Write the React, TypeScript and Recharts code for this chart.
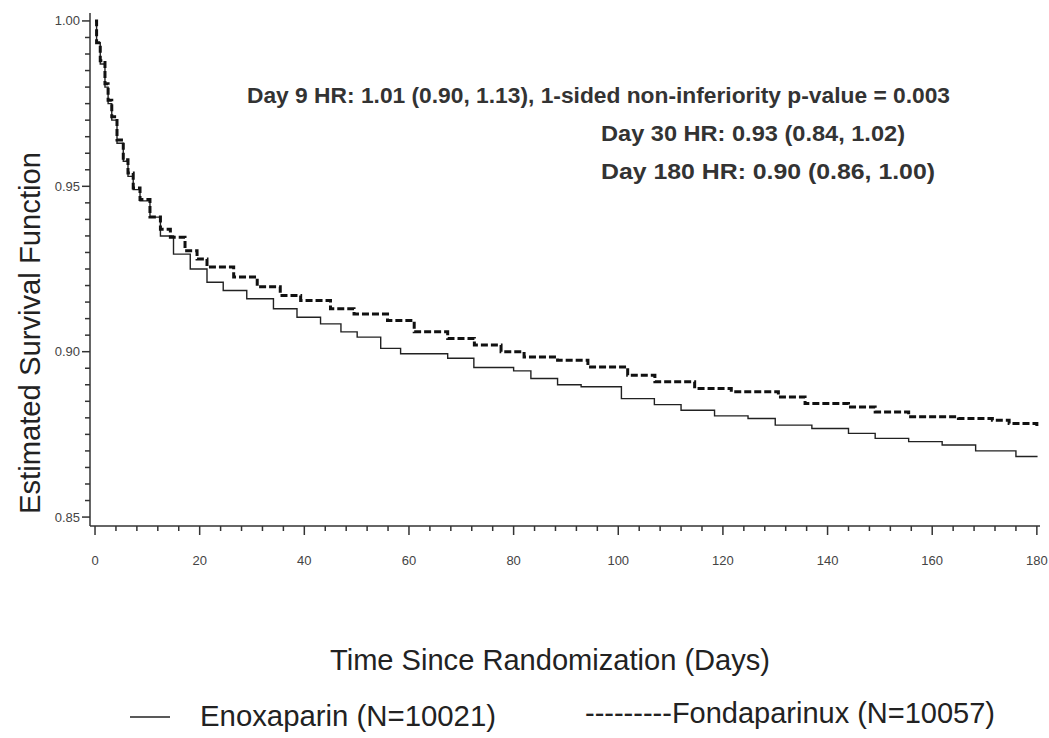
import { Customized, Label, Legend, Line, LineChart, XAxis, YAxis } from "recharts";

// Kaplan-Meier estimates (step changes)
const enoxDays = [
  0, 0.3, 1, 1.9, 2.5, 3.2, 4.2, 5.4, 6.3, 7.3, 8.6, 10.5, 12.5, 15, 18.2, 21.4, 24.5, 29, 34.1,
  38.6, 43.1, 47, 50.1, 54.6, 58.4, 67.4, 72.4, 80, 83.3, 88.4, 92.9, 100.6, 106.9, 112, 118.4,
  124.8, 130, 137, 144, 149.1, 155.5, 161.9, 168.3, 176, 180,
];
const enoxSurv = [
  1.0, 0.9934, 0.987, 0.98, 0.975, 0.97, 0.963, 0.9576, 0.953, 0.949, 0.9456, 0.9407, 0.935,
  0.9295, 0.925, 0.921, 0.9185, 0.916, 0.913, 0.9104, 0.9084, 0.906, 0.9044, 0.901, 0.8994, 0.898,
  0.8952, 0.8942, 0.8919, 0.89, 0.8894, 0.8858, 0.884, 0.8823, 0.8806, 0.8798, 0.8778, 0.8768,
  0.8753, 0.8738, 0.8728, 0.8718, 0.87, 0.8683, 0.8681,
];

const fondaDays = [
  0, 0.3, 1, 1.9, 2.5, 3.2, 4.2, 5.4, 6.3, 7.3, 8.6, 10.5, 12.5, 14.4, 17.2, 19.5, 21.4, 26.5, 31,
  35.4, 39.3, 45, 49.5, 55.9, 61, 67.4, 72.5, 77.6, 82, 88.4, 94.2, 101.8, 107, 114.6, 121.6, 130.6,
  135.7, 144, 149.1, 155.5, 165, 171.5, 174.7, 180,
];
const fondaSurv = [
  1.0, 0.9934, 0.988, 0.981, 0.976, 0.971, 0.964, 0.958, 0.954, 0.9495, 0.946, 0.9407, 0.937,
  0.9346, 0.9305, 0.928, 0.9256, 0.9226, 0.9196, 0.917, 0.9155, 0.913, 0.9114, 0.9094, 0.906, 0.904,
  0.902, 0.9, 0.8984, 0.8974, 0.8954, 0.8929, 0.8909, 0.8889, 0.8879, 0.8863, 0.8843, 0.8833,
  0.8818, 0.8803, 0.8798, 0.8793, 0.8783, 0.8773,
];

const xTicks = Array.from({ length: 46 }, (_, i) => i * 4);
const yTicks = Array.from({ length: 31 }, (_, i) => +(0.85 + i * 0.005).toFixed(3));

const annotations = [
  "Day 9 HR: 1.01 (0.90, 1.13), 1-sided non-inferiority p-value = 0.003",
  "Day 30 HR: 0.93 (0.84, 1.02)",
  "Day 180 HR: 0.90 (0.86, 1.00)",
];

const enoxData = enoxDays.map((day, i) => ({ day, surv: enoxSurv[i] }));
const fondaData = fondaDays.map((day, i) => ({ day, surv: fondaSurv[i] }));

const FONT = "'Liberation Sans Narrow', 'Arial Narrow', 'Liberation Sans', Arial, sans-serif";
const W = 1049;
const H = 738;

function XTick({ x, y, payload }: any) {
  const major = payload.value % 20 === 0;
  return (
    <g>
      <line x1={x} x2={x} y1={y} y2={y + (major ? 9 : 5)} stroke="#333" strokeWidth={1.5} />
      {major && (
        <text x={x} y={y + 34} textAnchor="middle" dominantBaseline="central" fontSize={13} fill="#444" fontFamily={FONT}>
          {payload.value}
        </text>
      )}
    </g>
  );
}

function YTick({ x, y, payload }: any) {
  const major = Math.round(payload.value * 1000) % 50 === 0;
  return (
    <g>
      <line x1={x} x2={x - (major ? 8 : 5)} y1={y} y2={y} stroke="#333" strokeWidth={1.5} />
      {major && (
        <text x={x - 10} y={y} textAnchor="end" dominantBaseline="central" fontSize={13} fill="#444" fontFamily={FONT}>
          {payload.value.toFixed(2)}
        </text>
      )}
    </g>
  );
}

function LegendBox() {
  return (
    <svg width={W} height={62} style={{ display: "block" }}>
      <line x1={130} x2={170} y1={41} y2={41} stroke="#222" strokeWidth={1.5} />
      <text x={200} y={40} dominantBaseline="central" fontSize={29} fill="#222" fontFamily={FONT} textLength={296} lengthAdjust="spacingAndGlyphs">
        Enoxaparin (N=10021)
      </text>
      <text x={585} y={37} dominantBaseline="central" fontSize={29} fill="#222" fontFamily={FONT} textLength={410} lengthAdjust="spacingAndGlyphs">
        ---------Fondaparinux (N=10057)
      </text>
    </svg>
  );
}

function Annotations() {
  const rows = [
    { x: 247, y: 95, w: 703 },
    { x: 601, y: 133, w: 304 },
    { x: 601, y: 171, w: 334 },
  ];
  return (
    <g>
      {annotations.map((t, i) => (
        <text
          key={t}
          x={rows[i].x}
          y={rows[i].y}
          dominantBaseline="central"
          fontSize={22}
          fontWeight="bold"
          fill="#333"
          fontFamily={FONT}
          textLength={rows[i].w}
          lengthAdjust="spacingAndGlyphs"
        >
          {t}
        </text>
      ))}
    </g>
  );
}

export default function App() {
  return (
    <>
      <style>{"body { margin: 0; }"}</style>
      <LineChart width={W} height={H} margin={{ top: 13, right: 9, bottom: 0, left: 30 }}>
        <XAxis
          dataKey="day"
          type="number"
          domain={[-0.96, 180.6]}
          allowDataOverflow
          ticks={xTicks}
          interval={0}
          tick={<XTick />}
          tickLine={false}
          tickSize={0}
          tickMargin={0}
          height={150}
          axisLine={{ stroke: "#333", strokeWidth: 1.5 }}
        >
          <Label
            content={() => (
              <text x={550} y={660} textAnchor="middle" dominantBaseline="central" fontSize={29} fill="#222" fontFamily={FONT} textLength={440} lengthAdjust="spacingAndGlyphs">
                Time Since Randomization (Days)
              </text>
            )}
          />
        </XAxis>
        <XAxis xAxisId="top" orientation="top" type="number" domain={[-0.96, 180.6]} height={0} tick={false} tickLine={false} axisLine={{ stroke: "#333", strokeWidth: 1.5 }} />
        <YAxis
          type="number"
          domain={[0.8473, 1.0024]}
          allowDataOverflow
          ticks={yTicks}
          interval={0}
          tick={<YTick />}
          tickLine={false}
          tickSize={0}
          tickMargin={0}
          width={60}
          axisLine={{ stroke: "#333", strokeWidth: 1.5 }}
        >
          <Label
            content={() => (
              <text x={30} y={333} transform="rotate(-90 30 333)" textAnchor="middle" dominantBaseline="central" fontSize={29} fill="#222" fontFamily={FONT} textLength={362} lengthAdjust="spacingAndGlyphs">
                Estimated Survival Function
              </text>
            )}
          />
        </YAxis>
        <YAxis yAxisId="right" orientation="right" width={0} tick={false} tickLine={false} axisLine={{ stroke: "#333", strokeWidth: 1.5 }} />
        <Line
          data={enoxData}
          dataKey="surv"
          name="Enoxaparin (N=10021)"
          type="stepAfter"
          stroke="#222"
          strokeWidth={1.4}
          dot={false}
          isAnimationActive={false}
        />
        <Line
          data={fondaData}
          dataKey="surv"
          name="Fondaparinux (N=10057)"
          type="stepAfter"
          stroke="#111"
          strokeWidth={3}
          strokeDasharray="7 3"
          dot={false}
          isAnimationActive={false}
        />
        <Legend verticalAlign="bottom" wrapperStyle={{ left: 0, width: W }} content={() => <LegendBox />} />
        <Customized component={<Annotations />} />
      </LineChart>
    </>
  );
}
